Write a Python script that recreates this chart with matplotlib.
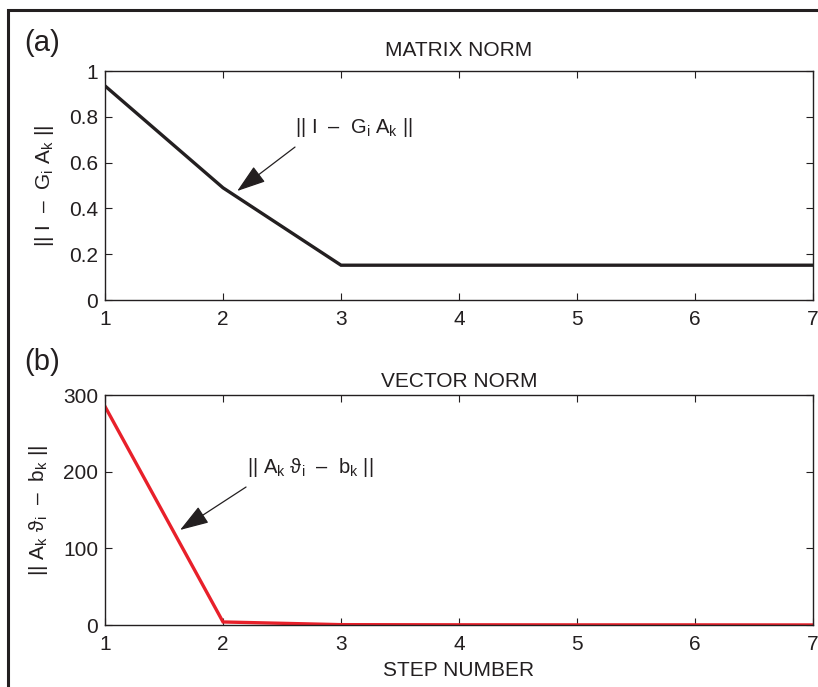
import matplotlib
matplotlib.use('Agg')
import matplotlib.pyplot as plt
from matplotlib.patches import Rectangle

plt.rcParams['font.family'] = ['Liberation Sans', 'DejaVu Sans']
plt.rcParams['mathtext.fontset'] = 'custom'
plt.rcParams['mathtext.rm'] = 'Liberation Sans'
plt.rcParams['mathtext.it'] = 'Liberation Sans'
plt.rcParams['mathtext.sf'] = 'Liberation Sans'

steps = [1, 2, 3, 4, 5, 6, 7]
matrix_norm = [0.935, 0.49, 0.152, 0.152, 0.152, 0.152, 0.152]
vector_norm = [285, 4, 0.5, 0.3, 0.2, 0.2, 0.1]

mat_label = r'$\mathrm{||\ I\ \ –\ \ G_{i}\ A_{k}\ ||}$'
vec_label = r'$\mathrm{||\ A_{k}\ \vartheta_{i}\ \ –\ \ b_{k}\ ||}$'

ink = '#231f20'
fig = plt.figure(figsize=(8.18, 6.87), dpi=100)

# outer frame
fig.patches.append(Rectangle((8/818, -0.1), 1.0, 1.1 - 10/687, transform=fig.transFigure,
                             fill=False, edgecolor=ink, linewidth=2.2))

ax1 = fig.add_axes([0.1284, 0.5633, 0.8655, 0.3333])
ax2 = fig.add_axes([0.1284, 0.0902, 0.8655, 0.3348])

ax1.plot(steps, matrix_norm, color=ink, linewidth=2.4, solid_joinstyle='miter')
ax2.plot(steps, vector_norm, color='#e8202a', linewidth=2.4, solid_joinstyle='miter')

ax1.set_ylim(0, 1)
ax1.set_yticks([0, 0.2, 0.4, 0.6, 0.8, 1])
ax1.set_yticklabels(['0', '0.2', '0.4', '0.6', '0.8', '1'])
ax2.set_ylim(0, 300)
ax2.set_yticks([0, 100, 200, 300])

for ax in (ax1, ax2):
    ax.set_xlim(1, 7)
    ax.set_xticks(steps)
    ax.tick_params(direction='in', length=5, width=0.8, labelsize=15,
                   top=True, right=True, colors=ink)
    ax.tick_params(axis='x', pad=7)
    ax.tick_params(axis='y', pad=5)
    for spine in ax.spines.values():
        spine.set_linewidth(1.0)
        spine.set_color(ink)

ax1.set_title('MATRIX NORM', fontsize=15, pad=11, color=ink)
ax2.set_title('VECTOR NORM', fontsize=15, pad=6, color=ink)
ax1.set_ylabel(mat_label, fontsize=15, labelpad=9, color=ink)
ax2.set_ylabel(vec_label, fontsize=15, labelpad=9, color=ink)
ax2.set_xlabel('STEP NUMBER', fontsize=15, labelpad=5, color=ink)

fig.text(24/818, 1 - 43/687, '(a)', fontsize=21, color=ink, va='center')
fig.text(24/818, 1 - 362/687, '(b)', fontsize=21, color=ink, va='center')

arrow = dict(arrowstyle='-|>,head_length=0.9,head_width=0.3',
             color=ink, lw=0.9, shrinkA=0, shrinkB=0, mutation_scale=20)

ax1.text(2.61, 0.755, mat_label, fontsize=14.5, ha='left', va='center', color=ink)
ax1.annotate('', xy=(2.12, 0.476), xytext=(2.61, 0.668), arrowprops=arrow)

ax2.text(2.20, 206, vec_label, fontsize=14.5, ha='left', va='center', color=ink)
ax2.annotate('', xy=(1.636, 124), xytext=(2.195, 180), arrowprops=arrow)

fig.savefig('out.png', dpi=100)
